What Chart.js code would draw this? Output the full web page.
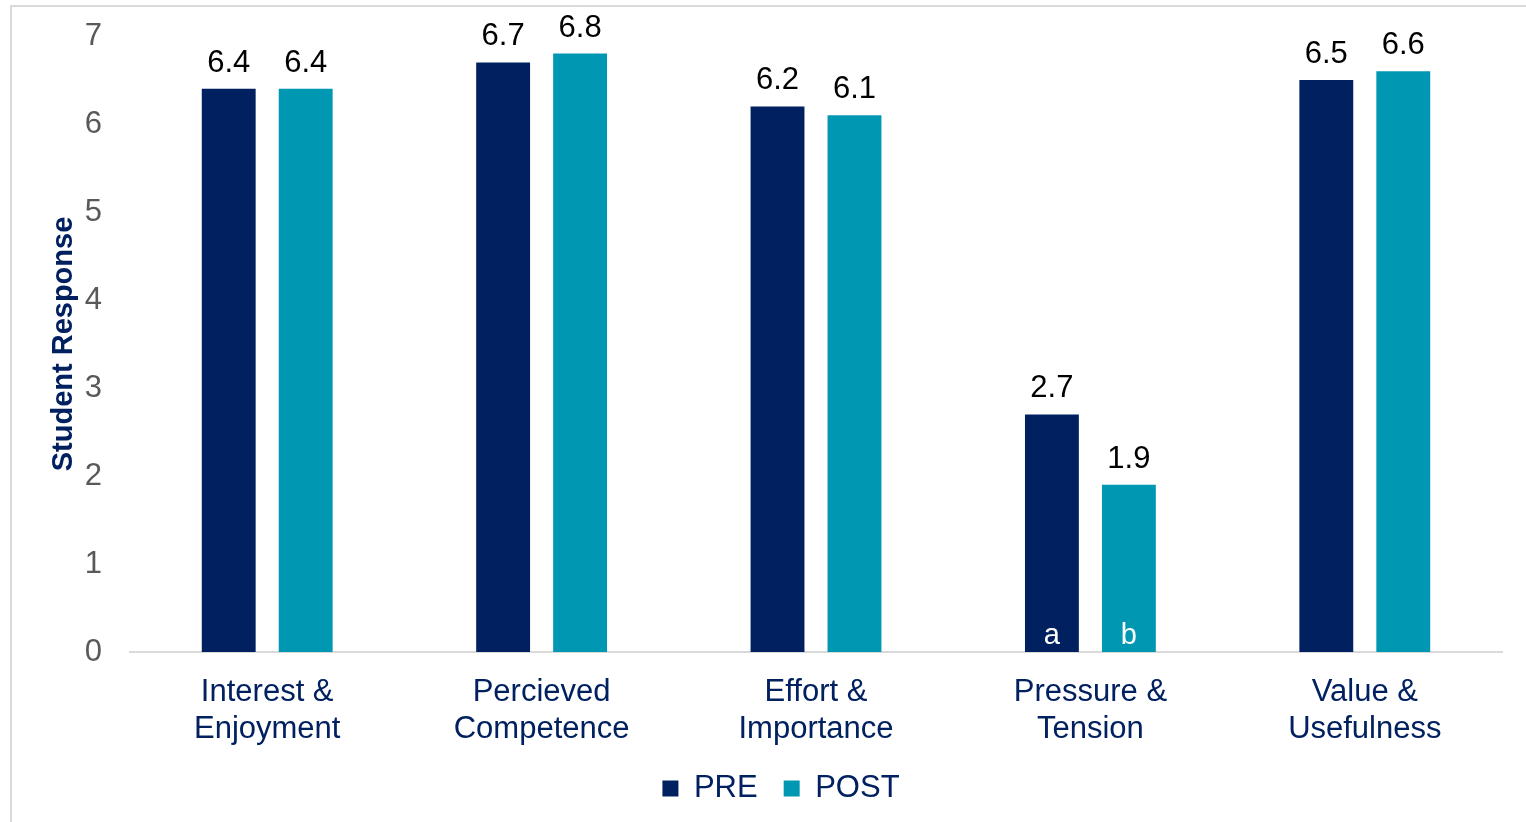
<!DOCTYPE html>
<html>
<head>
<meta charset="utf-8">
<script src="https://cdn.jsdelivr.net/npm/chart.js@4/dist/chart.umd.min.js"></script>
<style>
  html, body { margin: 0; padding: 0; background: #fff; }
  #frame { position: absolute; left: 10px; top: 5px; width: 1530px; height: 830px;
           border: 2px solid #d9d9d9; box-sizing: border-box; }
  #priceChart { position: absolute; left: 0; top: 0; }
</style>
</head>
<body>
<div id="frame"></div>
<canvas id="priceChart" width="1526" height="822"></canvas>
<script>
const categories = [['Interest &', 'Enjoyment'], ['Percieved', 'Competence'], ['Effort &', 'Importance'], ['Pressure &', 'Tension'], ['Value &', 'Usefulness']];
const preValues = [6.4, 6.7, 6.2, 2.7, 6.5];
const postValues = [6.4, 6.8, 6.1, 1.9, 6.6];
const preNotes = ['', '', '', 'a', ''];
const postNotes = ['', '', '', 'b', ''];
const yTicks = [0, 1, 2, 3, 4, 5, 6, 7];

const NAVY = '#002060';
const TEAL = '#0097b3';
const FONT = '"Liberation Sans", Arial, sans-serif';

// value labels above bars + letters inside the Pressure bars
const barLabels = {
  id: 'barLabels',
  afterDatasetsDraw(chart) {
    const ctx = chart.ctx;
    const notes = [preNotes, postNotes];
    ctx.save();
    ctx.textAlign = 'center';
    ctx.textBaseline = 'alphabetic';
    chart.data.datasets.forEach((ds, di) => {
      chart.getDatasetMeta(di).data.forEach((bar, i) => {
        ctx.fillStyle = '#000';
        ctx.font = '31px ' + FONT;
        ctx.fillText(ds.data[i].toFixed(1), bar.x, bar.y - 17);
        if (notes[di][i]) {
          ctx.fillStyle = '#fff';
          ctx.font = '29px ' + FONT;
          ctx.fillText(notes[di][i], bar.x, bar.base - 8);
        }
      });
    });
    ctx.restore();
  }
};

// nudge the legend a bit right, like the original
const legendShift = {
  id: 'legendShift',
  afterLayout(chart) {
    chart.legend.left += 30;
    chart.legend.right += 30;
  }
};

const ctx = document.getElementById('priceChart').getContext('2d');
const chart = new Chart(ctx, {
  type: 'bar',
  data: {
    labels: categories,
    datasets: [
      { label: 'PRE', data: preValues, backgroundColor: NAVY },
      { label: 'POST', data: postValues, backgroundColor: TEAL }
    ]
  },
  options: {
    responsive: false,
    animation: false,
    events: [],
    layout: { padding: { top: 36, right: 24, left: 0, bottom: 8 } },
    datasets: { bar: { categoryPercentage: 0.561, barPercentage: 0.70 } },
    scales: {
      x: {
        grid: { display: false },
        border: { display: true, color: '#d9d9d9', width: 2 },
        ticks: { color: NAVY, font: { family: FONT, size: 31, lineHeight: 1.2 }, padding: 14, maxRotation: 0, autoSkip: false },
        afterFit(scale) { scale.height = 95; }
      },
      y: {
        min: 0, max: 7,
        afterBuildTicks(scale) { scale.ticks = yTicks.map(v => ({ value: v })); },
        grid: { display: false },
        border: { display: false },
        ticks: { color: '#595959', font: { family: FONT, size: 31 }, padding: 20 },
        title: { display: true, text: 'Student Response', color: NAVY, padding: { top: 47, bottom: 0 },
                 font: { family: FONT, size: 29, weight: 'bold' } },
        afterFit(scale) {
          scale.width = 130;
          scale.paddingTop = 0;
          scale.paddingBottom = 0;
        }
      }
    },
    plugins: {
      legend: {
        position: 'bottom',
        labels: { color: NAVY, font: { family: FONT, size: 31 }, boxWidth: 16, boxHeight: 16, padding: 26 }
      },
      tooltip: { enabled: false }
    }
  },
  plugins: [barLabels, legendShift]
});
</script>
</body>
</html>
